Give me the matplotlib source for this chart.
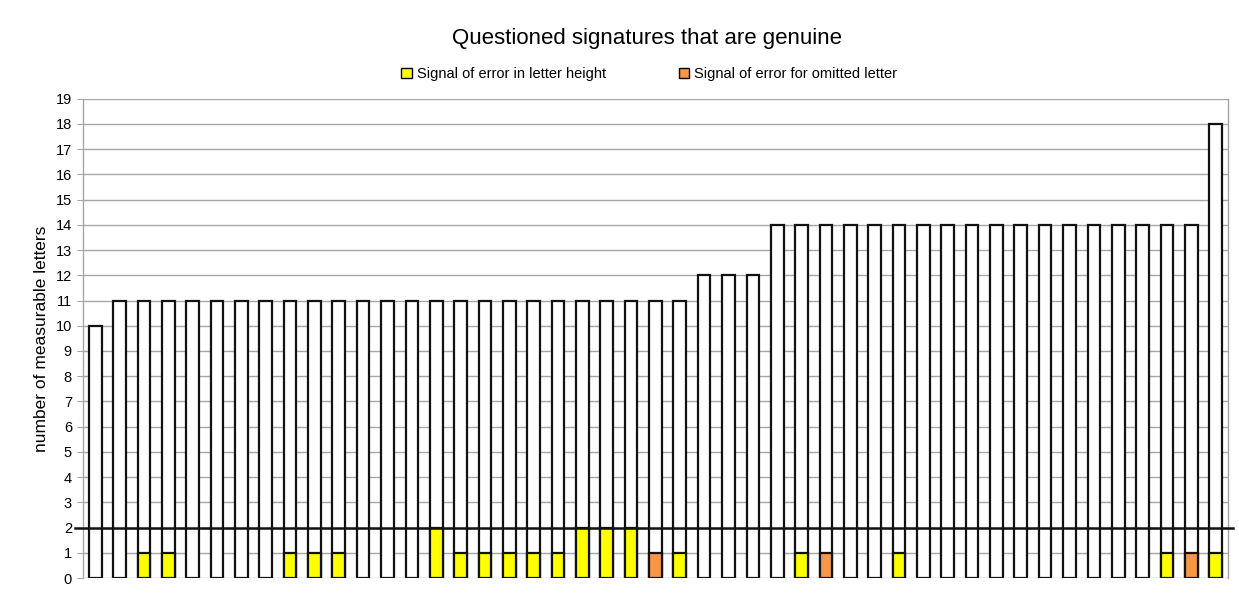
import numpy as np
import matplotlib
matplotlib.use('Agg')
import matplotlib.pyplot as plt
from matplotlib.patches import Patch

plt.rcParams['font.family'] = ['Liberation Sans', 'DejaVu Sans']

# number of measurable letters per questioned signature
totals = [10] + [11] * 24 + [12] * 3 + [14] * 18 + [18]

# signal of error in letter height (yellow)
height_err = [0, 0, 1, 1, 0, 0, 0, 0, 1, 1, 1, 0, 0, 0, 2, 1, 1, 1, 1, 1,
              2, 2, 2, 0, 1, 0, 0, 0, 0, 1, 0, 0, 0, 1, 0, 0, 0, 0, 0, 0,
              0, 0, 0, 0, 1, 0, 1]

# signal of error for omitted letter (orange)
omit_err = [0] * 47
omit_err[23] = 1
omit_err[30] = 1
omit_err[45] = 1

threshold = 2

x = np.arange(len(totals))
W = 0.52
YELLOW = '#ffff00'
ORANGE = '#f79646'

fig = plt.figure(figsize=(12.39, 6.13), dpi=100)
ax = fig.add_axes([0.067, 0.057, 0.924, 0.782])

ax.bar(x, totals, width=W, color='white', edgecolor='#111111', linewidth=1.6, zorder=3)
hx = [i for i in x if height_err[i] > 0]
ax.bar(hx, [height_err[i] for i in hx], width=W, color=YELLOW, edgecolor='#111111',
       linewidth=1.6, zorder=4)
ox = [i for i in x if omit_err[i] > 0]
ax.bar(ox, [omit_err[i] for i in ox], width=W, color=ORANGE, edgecolor='#111111',
       linewidth=1.6, zorder=4)

# threshold line, running a bit past the plot area
ax.plot([-0.83, len(totals) - 0.3], [threshold, threshold], color='#111111',
        linewidth=1.8, clip_on=False, zorder=5)

ax.set_xlim(-0.5, len(totals) - 0.5)
ax.set_ylim(0, 19)
ax.set_yticks(range(0, 20))
ax.set_xticks([])
ax.grid(axis='y', color='#a6a6a6', linewidth=1.0, zorder=0)
ax.set_axisbelow(True)
for s in ['top', 'bottom']:
    ax.spines[s].set_visible(False)
for s in ['left', 'right']:
    ax.spines[s].set_color('#a6a6a6')
    ax.spines[s].set_linewidth(1.0)
ax.tick_params(axis='y', length=4, color='#a6a6a6', labelsize=10.5, pad=4)
ax.set_ylabel('number of measurable letters', fontsize=12.5, labelpad=5)

fig.text(0.522, 0.938, 'Questioned signatures that are genuine', ha='center',
         va='center', fontsize=16)

handles = [Patch(facecolor=YELLOW, edgecolor='black', linewidth=1.0),
           Patch(facecolor=ORANGE, edgecolor='black', linewidth=1.0)]
fig.legend(handles, ['Signal of error in letter height', 'Signal of error for omitted letter'],
           loc='center', bbox_to_anchor=(0.524, 0.879), ncol=2, frameon=False,
           fontsize=10.5, handlelength=0.7, handleheight=0.7, handletextpad=0.35,
           columnspacing=5.0)

fig.savefig('out.png', dpi=100, facecolor='white')
